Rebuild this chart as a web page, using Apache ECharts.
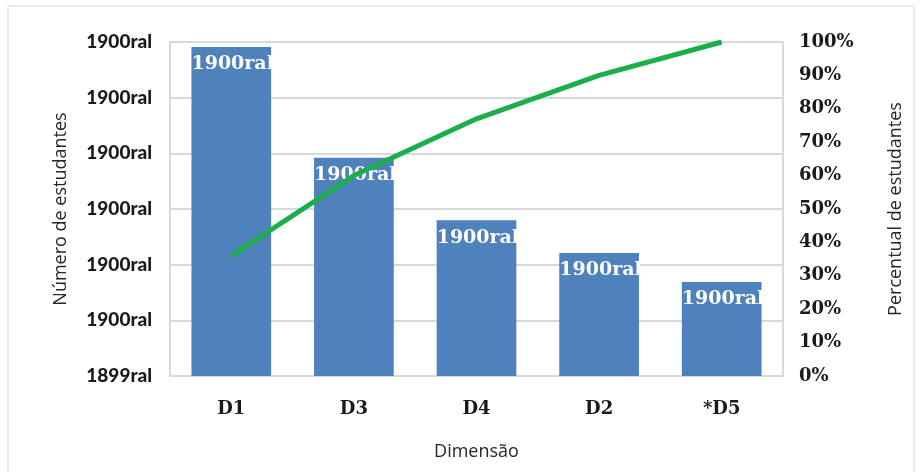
<!DOCTYPE html>
<html>
<head>
<meta charset="utf-8">
<script src="https://cdn.jsdelivr.net/npm/echarts@6/dist/echarts.min.js"></script>
<style>
  html, body { margin: 0; padding: 0; background: #fff; }
  #main { width: 923px; height: 472px; }
</style>
</head>
<body>
<div id="main"></div>
<script>
// categorias e valores
var categorias = ['D1', 'D3', 'D4', 'D2', '*D5'];
var numEstudantes = [5.91, 3.92, 2.80, 2.21, 1.69];
var percAcumulado = [36, 60, 77, 90, 100];
var rotulosBarra = ['1900ral', '1900ral', '1900ral', '1900ral', '1900ral'];
var ticksEsquerda = ['1899ral', '1900ral', '1900ral', '1900ral', '1900ral', '1900ral', '1900ral'];

(function () {
    var myChart = echarts.init(document.getElementById('main'));
    var option = {
        backgroundColor: '#fff',
        animation: false,
        graphic: [{
            type: 'rect',
            shape: { x: 8, y: 6, width: 906, height: 470 },
            style: { fill: 'none', stroke: '#d9d9d9', lineWidth: 1 },
            silent: true
        }],
        grid: {
            left: 170,
            right: 140,
            top: 42,
            bottom: 96
        },
        xAxis: {
            type: 'category',
            data: categorias,
            name: 'Dimensão',
            nameLocation: 'middle',
            nameGap: 67,
            nameTextStyle: { fontFamily: 'Open Sans', fontSize: 18, color: '#262626' },
            axisTick: { show: false },
            axisLine: { lineStyle: { color: '#d9d9d9', width: 2 } },
            axisLabel: {
                margin: 24,
                fontFamily: 'DejaVu Serif',
                fontWeight: 'bold',
                fontSize: 18,
                color: '#1a1a1a'
            }
        },
        yAxis: [
            {
                type: 'value',
                min: 0,
                max: 6,
                interval: 1,
                name: 'Número de estudantes',
                nameLocation: 'middle',
                nameGap: 100,
                nameTextStyle: { fontFamily: 'Open Sans', fontSize: 18, color: '#262626' },
                axisLine: { show: true, lineStyle: { color: '#d9d9d9', width: 2 } },
                axisTick: { show: false },
                axisLabel: {
                    margin: 18,
                    fontFamily: 'Lato',
                    fontWeight: 900,
                    fontSize: 19,
                    color: '#1a1a1a',
                    formatter: function (v) { return ticksEsquerda[Math.round(v)]; }
                },
                splitLine: { lineStyle: { color: '#d9d9d9', width: 2 } }
            },
            {
                type: 'value',
                min: 0,
                max: 100,
                interval: 10,
                name: 'Percentual de estudantes',
                nameLocation: 'middle',
                nameGap: 104,
                nameTextStyle: { fontFamily: 'Open Sans', fontSize: 18, color: '#262626' },
                axisLine: { show: true, lineStyle: { color: '#d9d9d9', width: 2 } },
                axisTick: { show: false },
                splitLine: { show: false },
                axisLabel: {
                    margin: 16,
                    fontFamily: 'DejaVu Serif',
                    fontWeight: 'bold',
                    fontSize: 18,
                    color: '#1a1a1a',
                    formatter: '{value}%'
                }
            }
        ],
        series: [
            {
                type: 'bar',
                data: numEstudantes,
                barWidth: '65%',
                itemStyle: { color: '#4f81bd' },
                label: {
                    show: true,
                    position: [0, 8],
                    align: 'left',
                    verticalAlign: 'top',
                    fontFamily: 'DejaVu Serif',
                    fontWeight: 'bold',
                    fontSize: 19,
                    color: '#fff',
                    formatter: function (p) { return rotulosBarra[p.dataIndex]; }
                }
            },
            {
                type: 'line',
                yAxisIndex: 1,
                data: percAcumulado,
                showSymbol: false,
                lineStyle: { color: '#1aaf4b', width: 5 },
                itemStyle: { color: '#1aaf4b' }
            }
        ]
    };
    myChart.setOption(option);
})();
</script>
</body>
</html>
